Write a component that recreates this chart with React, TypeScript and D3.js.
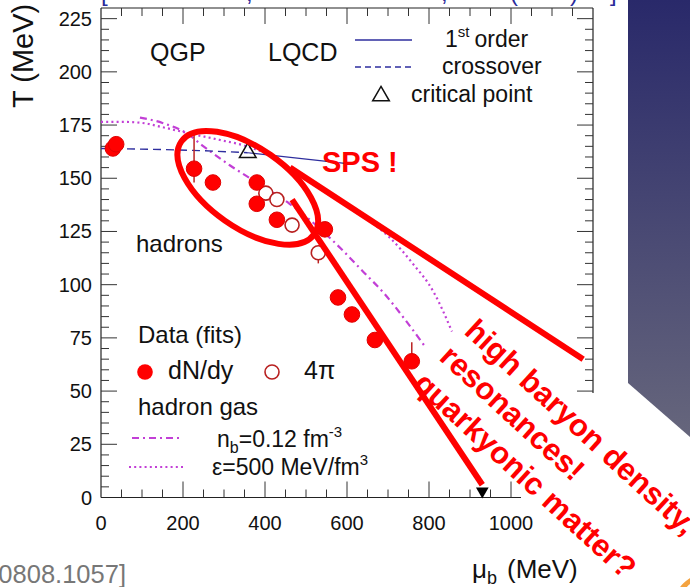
import React, { useRef, useEffect } from 'react'
import * as d3 from 'd3'

const W = 690
const H = 587

// chemical freeze-out fits
const dndyMu = [29, 37, 227, 273, 380, 380, 429, 546, 578, 612, 668, 758]
const dndyT = [164, 166, 154.5, 148, 148, 138, 130.5, 126, 94, 86, 74, 64]
const fourPiMu = [402, 429, 466, 530]
const fourPiT = [143, 140, 128, 115]
const errMu = [227, 530, 758]
const errLo = [148, 110, 64]
const errHi = [172, 115, 73]

// LQCD
const crossoverMu = [0, 120, 240, 358]
const crossoverT = [164, 163.6, 163, 162]
const firstOrderMu = [358, 595]
const firstOrderT = [162, 157]
const critMu = 358
const critT = 162

// hadron gas
const nbMu = [95, 150, 210, 250, 315, 380, 460, 530, 590, 640, 690, 740, 790]
const nbT = [178.5, 176, 171, 165, 156, 148, 138, 127, 116, 106, 96, 84, 71]
const epsMu = [0, 50, 100, 150, 217, 290, 356, 420, 461, 520, 580, 639, 705, 760, 810, 856]
const epsT = [176.5, 176.5, 176, 174, 171, 168, 165, 160, 155, 148, 140, 132, 122, 110, 97, 78]

const nuclearMu = 930
const nuclearT = 3

const xTickLabels = [0, 200, 400, 600, 800, 1000]
const yTickLabels = [0, 25, 50, 75, 100, 125, 150, 175, 200, 225]

const RED = '#ff0000'
const MAG = '#c23fd6'
const BLUE = '#2e2e9e'
const FONT = '"Liberation Sans", Arial, Helvetica, sans-serif'

export default function App() {
  const svgRef = useRef<SVGSVGElement>(null)

  useEffect(() => {
    const svg = d3.select(svgRef.current)
    svg.selectAll('*').remove()

    const x = d3.scaleLinear().domain([0, 1200]).range([101, 593])
    const y = d3.scaleLinear().domain([0, 230]).range([497.5, 8])
    const x0 = x(0), x1 = x(1200), y0 = y(0), y1 = y(230)

    // background panel on the right
    const grad = svg.append('defs').append('linearGradient')
      .attr('id', 'panel').attr('x1', 0).attr('y1', 0).attr('x2', 0).attr('y2', 1)
    grad.append('stop').attr('offset', 0).attr('stop-color', '#29296a')
    grad.append('stop').attr('offset', 1).attr('stop-color', '#66667c')
    svg.append('polygon')
      .attr('points', '628,0 690,0 690,437 628,383')
      .attr('fill', 'url(#panel)')

    // cut-off citation line at top
    const cite = svg.append('g').attr('fill', '#2a2a9a').attr('font-family', FONT).attr('font-size', 24)
    const citeBits: [number, string][] = [[101, '['], [246, ','], [441, ','], [510, '('], [570, ')'], [610, ']']]
    citeBits.forEach(([cx, s]) => cite.append('text').attr('x', cx).attr('y', 1).text(s))

    // frame
    const frame = svg.append('g').attr('stroke', '#222').attr('stroke-width', 1.2).attr('fill', 'none')
    frame.append('line').attr('x1', x0).attr('x2', x1).attr('y1', y1).attr('y2', y1)
    frame.append('line').attr('x1', x0).attr('x2', x0).attr('y1', y1).attr('y2', y0)
    frame.append('line').attr('x1', x0).attr('x2', 521).attr('y1', y0).attr('y2', y0)
    frame.append('line').attr('x1', x1).attr('x2', x1).attr('y1', y1).attr('y2', 393)

    const ticks = svg.append('g').attr('stroke', '#333').attr('stroke-width', 1)
    d3.range(0, 1201, 50).forEach(m => {
      const len = m % 200 === 0 ? 16 : 8
      const px = x(m)
      if (m > 0 && m < 1200) ticks.append('line').attr('x1', px).attr('x2', px).attr('y1', y1).attr('y2', y1 + len)
      if (m > 0 && px <= 521) ticks.append('line').attr('x1', px).attr('x2', px).attr('y1', y0).attr('y2', y0 - len)
    })
    d3.range(0, 231, 5).forEach(t => {
      const len = t % 25 === 0 ? 16 : 8
      const py = y(t)
      if (t > 0 && t < 230) ticks.append('line').attr('x1', x0).attr('x2', x0 + len).attr('y1', py).attr('y2', py)
      if (t < 230 && py <= 393) ticks.append('line').attr('x1', x1).attr('x2', x1 - len).attr('y1', py).attr('y2', py)
    })

    const labels = svg.append('g').attr('font-family', FONT).attr('font-size', 20).attr('fill', '#111')
    xTickLabels.forEach(m => labels.append('text').attr('x', x(m)).attr('y', 530).attr('text-anchor', 'middle').text(m))
    yTickLabels.forEach(t => labels.append('text').attr('x', 92).attr('y', y(t) + 7).attr('text-anchor', 'end').text(t))

    // axis titles
    svg.append('text').attr('transform', 'translate(33,108) rotate(-90)')
      .attr('font-family', FONT).attr('font-size', 29).attr('fill', '#111').text('T (MeV)')
    const xt = svg.append('text').attr('x', 472).attr('y', 578).attr('font-family', FONT).attr('font-size', 26).attr('fill', '#111')
    xt.append('tspan').text('μ')
    xt.append('tspan').attr('font-size', 18).attr('dy', 6).text('b')
    xt.append('tspan').attr('dy', -6).attr('dx', 10).text('(MeV)')

    // curves
    const line = d3.line<[number, number]>().x(d => x(d[0])).y(d => y(d[1])).curve(d3.curveMonotoneX)
    const zip = (a: number[], b: number[]) => a.map((v, i) => [v, b[i]] as [number, number])

    svg.append('path').attr('d', line(zip(epsMu, epsT)))
      .attr('fill', 'none').attr('stroke', MAG).attr('stroke-width', 2.2).attr('stroke-dasharray', '2 3.2')
    svg.append('path').attr('d', line(zip(nbMu, nbT)))
      .attr('fill', 'none').attr('stroke', MAG).attr('stroke-width', 2.2).attr('stroke-dasharray', '7 4 2 4')
    svg.append('path').attr('d', line(zip(crossoverMu, crossoverT)))
      .attr('fill', 'none').attr('stroke', BLUE).attr('stroke-width', 1.4).attr('stroke-dasharray', '8 5')
    svg.append('path').attr('d', line(zip(firstOrderMu, firstOrderT)))
      .attr('fill', 'none').attr('stroke', BLUE).attr('stroke-width', 1.2)

    const tri = d3.symbol().type(d3.symbolTriangle).size(120)
    svg.append('path').attr('d', tri()).attr('transform', `translate(${x(critMu)},${y(critT)})`)
      .attr('fill', 'none').attr('stroke', '#111').attr('stroke-width', 1.5)
    svg.append('path').attr('d', d3.symbol().type(d3.symbolTriangle).size(70)())
      .attr('transform', `translate(${x(nuclearMu)},${y(nuclearT)}) rotate(180)`).attr('fill', '#000')

    // error bars
    errMu.forEach((m, i) => svg.append('line').attr('x1', x(m)).attr('x2', x(m))
      .attr('y1', y(errLo[i])).attr('y2', y(errHi[i])).attr('stroke', '#b22').attr('stroke-width', 1.5))

    svg.append('g').selectAll('circle').data(zip(fourPiMu, fourPiT)).join('circle')
      .attr('cx', d => x(d[0])).attr('cy', d => y(d[1])).attr('r', 7)
      .attr('fill', '#fff').attr('stroke', '#b82020').attr('stroke-width', 1.6)
    svg.append('g').selectAll('circle').data(zip(dndyMu, dndyT)).join('circle')
      .attr('cx', d => x(d[0])).attr('cy', d => y(d[1])).attr('r', 7.8)
      .attr('fill', RED).attr('stroke', '#e00000').attr('stroke-width', 1)

    // text in plot
    const t = (tx: number, ty: number, s: string, size: number) =>
      svg.append('text').attr('x', tx).attr('y', ty).attr('font-family', FONT).attr('font-size', size).attr('fill', '#111').text(s)
    t(150, 61, 'QGP', 25)
    t(268, 61, 'LQCD', 25)
    t(136, 252, 'hadrons', 24)
    t(138, 343, 'Data (fits)', 24)
    t(168, 379, 'dN/dy', 25)
    t(304, 379, '4π', 25)
    t(138, 415, 'hadron gas', 24)

    // upper legend
    svg.append('line').attr('x1', 355).attr('x2', 412).attr('y1', 40).attr('y2', 40).attr('stroke', BLUE).attr('stroke-width', 1.6)
    svg.append('line').attr('x1', 355).attr('x2', 412).attr('y1', 67).attr('y2', 67).attr('stroke', BLUE).attr('stroke-width', 1.6).attr('stroke-dasharray', '6 4')
    svg.append('path').attr('d', tri()).attr('transform', 'translate(381,96)').attr('fill', 'none').attr('stroke', '#111').attr('stroke-width', 1.5)
    const fo = t(445, 47, '1', 23)
    fo.append('tspan').attr('font-size', 15).attr('dy', -10).text('st')
    fo.append('tspan').attr('dy', 10).attr('dx', 5).text('order')
    t(442, 74, 'crossover', 23)
    t(411, 102, 'critical point', 23)

    // lower legend
    svg.append('circle').attr('cx', 145).attr('cy', 372).attr('r', 7.8).attr('fill', RED)
    svg.append('circle').attr('cx', 272).attr('cy', 372).attr('r', 7).attr('fill', '#fff').attr('stroke', '#b82020').attr('stroke-width', 1.6)
    svg.append('line').attr('x1', 132).attr('x2', 183).attr('y1', 438).attr('y2', 438).attr('stroke', MAG).attr('stroke-width', 2.2).attr('stroke-dasharray', '7 4 2 4')
    svg.append('line').attr('x1', 129).attr('x2', 183).attr('y1', 467).attr('y2', 467).attr('stroke', MAG).attr('stroke-width', 2.2).attr('stroke-dasharray', '2 3.2')
    const nb = t(217, 447, 'n', 23)
    nb.append('tspan').attr('font-size', 16).attr('dy', 6).text('b')
    nb.append('tspan').attr('dy', -6).text('=0.12 fm')
    nb.append('tspan').attr('font-size', 15).attr('dy', -10).text('-3')
    const ep = t(212, 475, 'ε=500 MeV/fm', 23)
    ep.append('tspan').attr('font-size', 15).attr('dy', -10).text('3')

    // red annotations
    const ann = svg.append('g').attr('stroke', RED).attr('stroke-width', 6).attr('fill', 'none').attr('stroke-linecap', 'butt')
    ann.append('ellipse').attr('cx', x(358)).attr('cy', y(145.5)).attr('rx', 81).attr('ry', 40)
      .attr('transform', `rotate(35 ${x(358)} ${y(145.5)})`)
    ann.append('line').attr('x1', x(461)).attr('y1', y(155)).attr('x2', x(1176)).attr('y2', y(65))
    ann.append('line').attr('x1', x(466)).attr('y1', y(140)).attr('x2', x(nuclearMu)).attr('y2', y(nuclearT + 3))

    svg.append('text').attr('x', 322).attr('y', 172).attr('font-family', FONT).attr('font-weight', 'bold')
      .attr('font-size', 29).attr('fill', RED).text('SPS !')

    const rot = 42.5
    const red = (tx: number, ty: number, s: string) =>
      svg.append('text').attr('transform', `translate(${tx},${ty}) rotate(${rot})`)
        .attr('font-family', FONT).attr('font-weight', 'bold').attr('font-size', 31).attr('fill', RED).text(s)
    red(463, 333, 'high baryon density,')
    red(438, 359, 'resonances!')
    red(412, 386, 'quarkyonic matter?')

    // bottom left citation and logo fragment
    svg.append('text').attr('x', 126).attr('y', 583).attr('text-anchor', 'end').attr('font-family', FONT)
      .attr('font-size', 25.5).attr('fill', '#777').text('[arXiv:0808.1057]')
    svg.append('circle').attr('cx', 712).attr('cy', 612).attr('r', 38).attr('fill', 'none').attr('stroke', '#f4a340').attr('stroke-width', 5)
  }, [])

  return (
    <svg ref={svgRef} width={W} height={H} style={{ position: 'absolute', left: 0, top: 0, background: '#fff' }} />
  )
}
